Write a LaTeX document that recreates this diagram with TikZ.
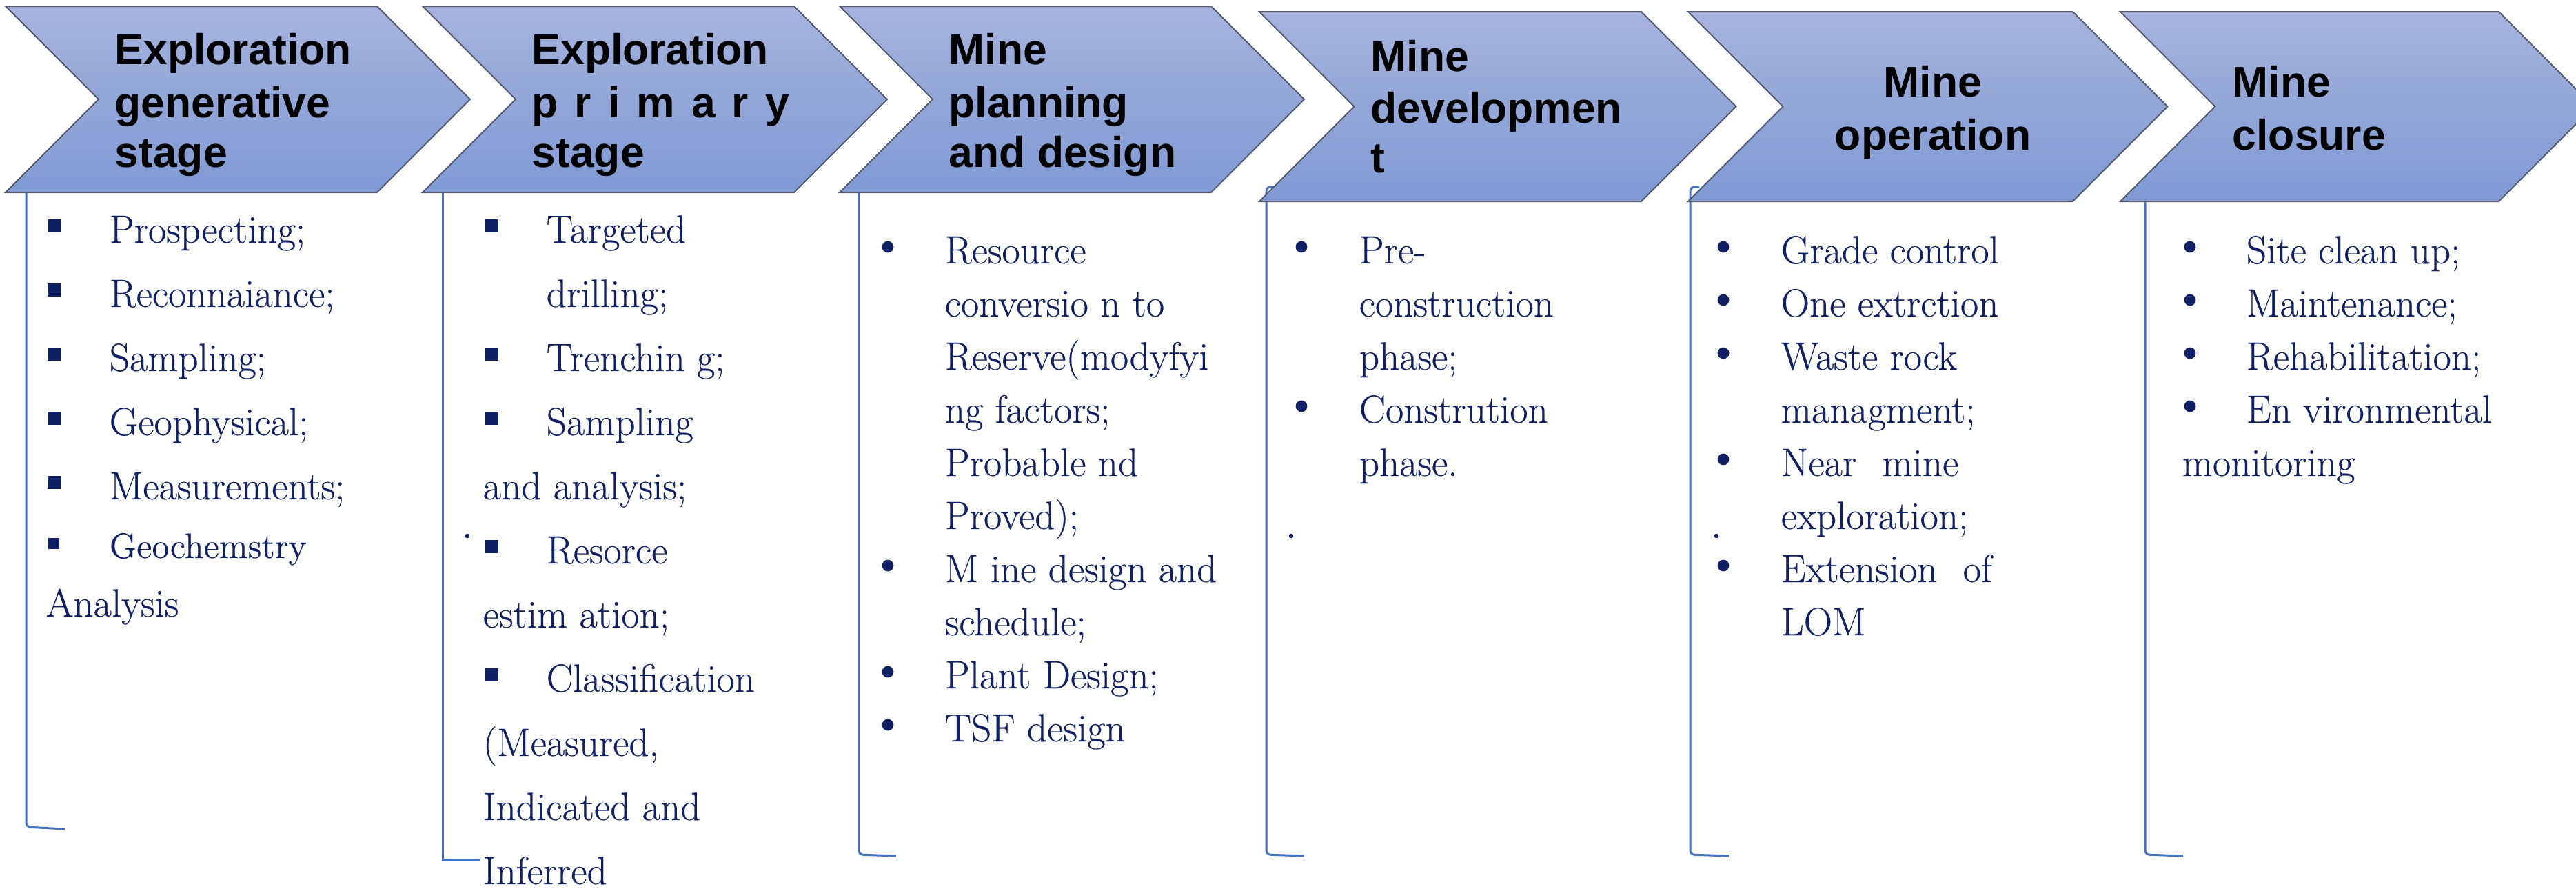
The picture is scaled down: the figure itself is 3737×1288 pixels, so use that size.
\documentclass[tikz,border=0pt]{standalone}
\usepackage{fontspec}
\newfontfamily\headfam{Liberation Sans}
\newfontfamily\bodyfam{Latin Modern Roman}[FakeBold=0.3]
\definecolor{chevtop}{RGB}{167,179,221}
\definecolor{chevbot}{RGB}{127,154,212}
\definecolor{chevline}{RGB}{84,90,112}
\definecolor{navy}{RGB}{16,32,100}
\definecolor{brkblue}{RGB}{68,114,196}
\tikzset{
  stage/.style={draw=chevline, line width=0.5pt, top color=chevtop, bottom color=chevbot},
  bracket/.style={draw=brkblue, line width=0.75pt, rounded corners=1.5pt},
  head/.style={font=\headfam\bfseries\fontsize{15.6}{18}\selectfont, text=black, inner sep=0pt, anchor=base west},
  item/.style={font=\bodyfam\fontsize{14.3}{17}\selectfont, text=navy, inner sep=0pt, anchor=base west},
  smallitem/.style={item, font=\bodyfam\fontsize{12.8}{15}\selectfont},
}
\begin{document}
\begin{tikzpicture}[x=0.25pt,y=-0.25pt]
\useasboundingbox (0,0) rectangle (3737,1288);
\clip (0,0) rectangle (3737,1288);

% brackets under each stage
\draw[bracket] (38,279) -- (38,1199) -- (94,1202);
\draw[bracket, sharp corners] (642,279) -- (642,1246) -- (696,1246);
\draw[bracket] (1246,279) -- (1246,1239) -- (1300,1241);
\draw[bracket] (1850,271) -- (1837,271) -- (1837,1239) -- (1892,1241);
\draw[bracket] (2465,271) -- (2452,271) -- (2452,1239) -- (2508,1241);
\draw[bracket] (3112,292) -- (3112,1239) -- (3167,1241);

% stage chevrons
\path[stage] (8,9) -- (547,9) -- (682,144) -- (547,279) -- (8,279) -- (143,144) -- cycle;
\path[stage] (613,9) -- (1152,9) -- (1287,144) -- (1152,279) -- (613,279) -- (748,144) -- cycle;
\path[stage] (1218,9) -- (1757,9) -- (1892,144) -- (1757,279) -- (1218,279) -- (1353,144) -- cycle;
\path[stage] (1827,17) -- (2381,17) -- (2518.5,154.5) -- (2381,292) -- (1827,292) -- (1964.5,154.5) -- cycle;
\path[stage] (2449,17) -- (3007,17) -- (3144.5,154.5) -- (3007,292) -- (2449,292) -- (2586.5,154.5) -- cycle;
\path[stage] (3076,17) -- (3625,17) -- (3762.5,154.5) -- (3625,292) -- (3076,292) -- (3213.5,154.5) -- cycle;

% stage titles
\node[head] (h1a) at (166,93) {Exploration};
\node[head] (h1b) at (166,170) {generative};
\node[head] (h1c) at (166,242) {stage};
\node[head] (h2a) at (771,93) {Exploration};
\node[head] (h2b) at (771,170) {\makebox[93.25pt][s]{p r i m a r y}};
\node[head] (h2c) at (771,242) {stage};
\node[head] (h3a) at (1376,93) {Mine};
\node[head] (h3b) at (1376,170) {planning};
\node[head] (h3c) at (1376,242) {and design};
\node[head] (h4a) at (1988,103) {Mine};
\node[head] (h4b) at (1988,178) {developmen};
\node[head] (h4c) at (1988,250) {t};
\node[head, anchor=base] (h5a) at (2804,140) {Mine};
\node[head, anchor=base] (h5b) at (2804,217) {operation};
\node[head] (h6a) at (3238,140) {Mine};
\node[head] (h6b) at (3238,217) {closure};

% column 1
\fill[navy] (69,318) rectangle (88,337);
\node[item] (c1a) at (158,352) {Prospecting;};
\fill[navy] (69,411) rectangle (88,430);
\node[item] (c1b) at (158,445) {Reconnaiance;};
\fill[navy] (69,504) rectangle (88,523);
\node[item] (c1c) at (158,538) {Sampling;};
\fill[navy] (69,597) rectangle (88,616);
\node[item] (c1d) at (158,631) {Geophysical;};
\fill[navy] (69,690) rectangle (88,709);
\node[item] (c1e) at (158,724) {Measurements;};
\fill[navy] (70,780) rectangle (86,796);
\node[smallitem] (c1f) at (158,809) {Geochemstry};
\node[item] (c1g) at (66,894) {Analysis};

% column 2
\fill[navy] (704,318) rectangle (723,337);
\node[item] (c2a) at (792,352) {Targeted};
\node[item] (c2b) at (792,445) {drilling;};
\fill[navy] (704,504) rectangle (723,523);
\node[item] (c2c) at (792,538) {Trenchin g;};
\fill[navy] (704,597) rectangle (723,616);
\node[item] (c2d) at (792,631) {Sampling};
\node[item] (c2e) at (700,724) {and analysis;};
\fill[navy] (678,777) circle[radius=0.8pt];
\fill[navy] (704,783) rectangle (723,802);
\node[item] (c2f) at (792,817) {Resorce};
\node[item] (c2g) at (700,910) {estim ation;};
\fill[navy] (704,969) rectangle (723,988);
\node[item] (c2h) at (792,1003) {Classification};
\node[item] (c2i) at (700,1096) {(Measured,};
\node[item] (c2j) at (700,1189) {Indicated and};
\node[item] (c2k) at (700,1282) {Inferred};

% column 3
\fill[navy] (1288,358) circle[radius=2.1pt];
\node[item] (c3a) at (1370,382) {Resource};
\node[item] (c3b) at (1370,459) {conversio n to};
\node[item] (c3c) at (1370,536) {Reserve(modyfyi};
\node[item] (c3d) at (1370,613) {ng factors;};
\node[item] (c3e) at (1370,690) {Probable nd};
\node[item] (c3f) at (1370,767) {Proved);};
\fill[navy] (1288,820) circle[radius=2.1pt];
\node[item] (c3g) at (1370,844) {M ine design and};
\node[item] (c3h) at (1370,921) {schedule;};
\fill[navy] (1288,974) circle[radius=2.1pt];
\node[item] (c3i) at (1370,998) {Plant Design;};
\fill[navy] (1288,1051) circle[radius=2.1pt];
\node[item] (c3j) at (1370,1075) {TSF design};

% column 4
\fill[navy] (1888,358) circle[radius=2.1pt];
\node[item] (c4a) at (1971,382) {Pre-};
\node[item] (c4b) at (1971,459) {construction};
\node[item] (c4c) at (1971,536) {phase;};
\fill[navy] (1888,589) circle[radius=2.1pt];
\node[item] (c4d) at (1971,613) {Constrution};
\node[item] (c4e) at (1971,690) {phase.};
\fill[navy] (1873,777) circle[radius=0.8pt];

% column 5
\fill[navy] (2500,358) circle[radius=2.1pt];
\node[item] (c5a) at (2583,382) {Grade control};
\fill[navy] (2500,435) circle[radius=2.1pt];
\node[item] (c5b) at (2583,459) {One extrction};
\fill[navy] (2500,512) circle[radius=2.1pt];
\node[item] (c5c) at (2583,536) {Waste rock};
\node[item] (c5d) at (2583,613) {managment;};
\fill[navy] (2500,666) circle[radius=2.1pt];
\node[item] (c5e) at (2583,690) {Near\hspace{5pt} mine};
\node[item] (c5f) at (2583,767) {exploration;};
\fill[navy] (2490,777) circle[radius=0.8pt];
\fill[navy] (2500,820) circle[radius=2.1pt];
\node[item] (c5g) at (2583,844) {Extension\hspace{5pt} of};
\node[item] (c5h) at (2583,921) {LOM};

% column 6
\fill[navy] (3177,358) circle[radius=2.1pt];
\node[item] (c6a) at (3258,382) {Site clean up;};
\fill[navy] (3177,435) circle[radius=2.1pt];
\node[item] (c6b) at (3258,459) {Maintenance;};
\fill[navy] (3177,512) circle[radius=2.1pt];
\node[item] (c6c) at (3258,536) {Rehabilitation;};
\fill[navy] (3177,589) circle[radius=2.1pt];
\node[item] (c6d) at (3258,613) {En vironmental};
\node[item] (c6e) at (3165,690) {monitoring};
\end{tikzpicture}
\end{document}
